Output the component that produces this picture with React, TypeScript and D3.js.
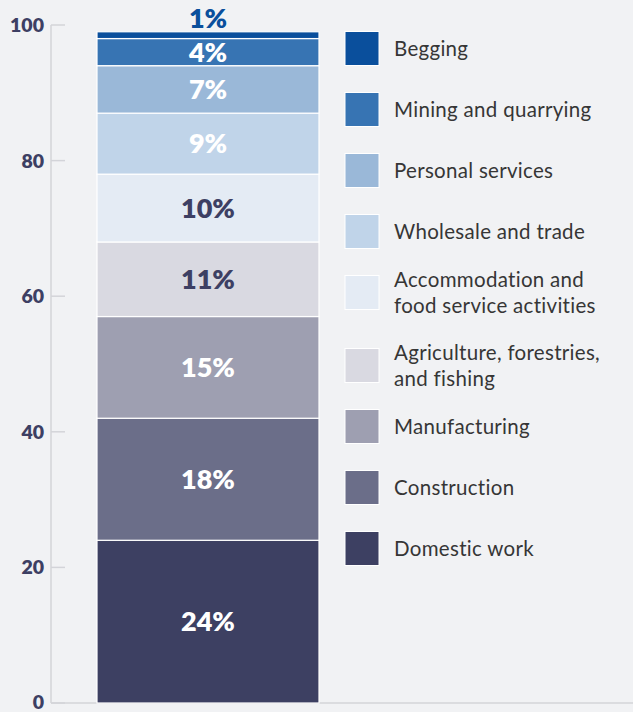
import { useEffect, useRef } from 'react';
import * as d3 from 'd3';

// bottom to top, as stacked in the bar
const sectors = [
  'Domestic work',
  'Construction',
  'Manufacturing',
  'Agriculture, forestries, and fishing',
  'Accommodation and food service activities',
  'Wholesale and trade',
  'Personal services',
  'Mining and quarrying',
  'Begging',
];
const shares = [24, 18, 15, 11, 10, 9, 7, 4, 1];
const colors = [
  '#3d4062',
  '#6b6e89',
  '#9e9fb1',
  '#d9d9e1',
  '#e4ebf4',
  '#c0d4e9',
  '#9ab8d8',
  '#3774b3',
  '#0a4f9c',
];
const labelColors = ['#fff', '#fff', '#fff', '#3d3f63', '#3d3f63', '#fff', '#fff', '#fff', '#0a4f9c'];
const legendLines = [
  ['Domestic work'],
  ['Construction'],
  ['Manufacturing'],
  ['Agriculture, forestries,', 'and fishing'],
  ['Accommodation and', 'food service activities'],
  ['Wholesale and trade'],
  ['Personal services'],
  ['Mining and quarrying'],
  ['Begging'],
];
const yTicks = [0, 20, 40, 60, 80, 100];

export default function App() {
  const svgRef = useRef<SVGSVGElement>(null);

  useEffect(() => {
    if (!svgRef.current) return;
    const width = 633;
    const height = 712;
    const svg = d3.select(svgRef.current);
    svg.selectAll('*').remove();
    svg.attr('width', width).attr('height', height);

    const font = 'Lato, "Open Sans", sans-serif';
    const axisX = 51;
    const y = d3.scaleLinear().domain([0, 100]).range([703, 25]);
    const x = d3.scaleBand().domain(['all']).range([97, 319]).padding(0);

    svg.append('rect').attr('width', width).attr('height', height).attr('fill', '#f1f2f4');

    // axis
    svg
      .append('line')
      .attr('x1', axisX)
      .attr('x2', axisX)
      .attr('y1', y(100))
      .attr('y2', y(0))
      .attr('stroke', '#d3d4d9')
      .attr('stroke-width', 1.5);
    svg
      .append('line')
      .attr('x1', axisX)
      .attr('x2', width)
      .attr('y1', y(0))
      .attr('y2', y(0))
      .attr('stroke', '#d3d4d9')
      .attr('stroke-width', 1.5);

    const ticks = svg.append('g');
    yTicks.forEach((t) => {
      ticks
        .append('line')
        .attr('x1', axisX)
        .attr('x2', axisX + 14)
        .attr('y1', y(t))
        .attr('y2', y(t))
        .attr('stroke', '#d3d4d9')
        .attr('stroke-width', 1.5);
      ticks
        .append('text')
        .attr('x', 44)
        .attr('y', y(t))
        .attr('dy', t === 0 ? '0.3em' : '0.36em')
        .attr('text-anchor', 'end')
        .attr('font-family', font)
        .attr('font-weight', 800)
        .attr('font-size', 19.5)
        .attr('fill', '#3d3f63')
        .text(t);
    });

    // stacked bar
    const row: Record<string, number> = {};
    sectors.forEach((s, i) => (row[s] = shares[i]));
    const stacked = d3.stack<Record<string, number>>().keys(sectors)([row]);

    const bar = svg.append('g');
    stacked.forEach((layer, i) => {
      const [y0, y1] = layer[0];
      bar
        .append('rect')
        .attr('x', x('all')!)
        .attr('width', x.bandwidth())
        .attr('y', y(y1))
        .attr('height', y(y0) - y(y1))
        .attr('fill', colors[i])
        .attr('stroke', '#fff')
        .attr('stroke-width', 1.2);

      const isTop = i === sectors.length - 1;
      bar
        .append('text')
        .attr('x', x('all')! + x.bandwidth() / 2)
        .attr('y', isTop ? y(y1) - 14 : y((y0 + y1) / 2))
        .attr('dy', '0.36em')
        .attr('text-anchor', 'middle')
        .attr('font-family', font)
        .attr('font-weight', 800)
        .attr('font-size', 27)
        .attr('fill', labelColors[i])
        .text(`${shares[i]}%`);
    });

    // legend, top to bottom
    const legend = svg.append('g');
    const order = d3.range(sectors.length).reverse();
    order.forEach((idx, row) => {
      // extra room once the two wrapped items have been placed
      const cy = 48.5 + row * 61 + (row >= 5 ? 12 : 0);
      legend
        .append('rect')
        .attr('x', 345)
        .attr('y', cy - 17)
        .attr('width', 34)
        .attr('height', 34)
        .attr('fill', colors[idx])
        .attr('stroke', '#fff')
        .attr('stroke-width', 1);
      const lines = legendLines[idx];
      const lh = 26.5;
      lines.forEach((line, j) => {
        legend
          .append('text')
          .attr('x', 394)
          .attr('y', cy + (j - (lines.length - 1) / 2) * lh)
          .attr('dy', '0.36em')
          .attr('font-family', font)
          .attr('font-size', 20.5)
          .attr('letter-spacing', 0.3)
          .attr('fill', '#363636')
          .text(line);
      });
    });
  }, []);

  return (
    <div style={{ position: 'fixed', left: 0, top: 0 }}>
      <svg ref={svgRef} style={{ display: 'block' }} />
    </div>
  );
}
